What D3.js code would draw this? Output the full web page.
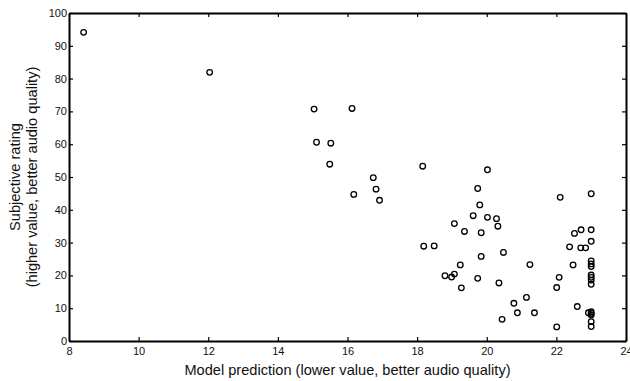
<!DOCTYPE html>
<html lang="en">
<head>
<meta charset="UTF-8">
<title>Model prediction vs subjective rating</title>
<script src="https://d3js.org/d3.v7.min.js"></script>
<style>
  body { margin: 0; background: #fff; }
  text { font-family: "Liberation Sans", Arial, sans-serif; fill: #111; }
</style>
</head>
<body>
<div id="chart"></div>
<script>
// model prediction (x) and subjective rating (y)
const prediction = [
  8.42, 12.04, 15.04, 15.11, 16.13, 15.52, 15.49, 16.74, 16.82, 16.18, 16.92,
  18.16, 19.74, 20.02, 22.11, 23.0,
  19.80, 19.61, 20.02, 20.28, 19.07, 20.32, 19.36, 19.84, 22.52, 22.71,
  18.19, 18.49, 22.38, 22.70, 22.84, 20.48, 19.84, 19.24, 21.24, 22.48,
  18.80, 18.99, 19.07, 19.74, 20.35, 22.08, 19.27, 22.01,
  21.14, 20.78, 22.60, 20.88, 21.37, 22.92, 20.44, 22.01,
  23.0, 23.0, 23.0, 23.0, 23.0, 23.0, 23.0, 23.0, 23.0, 23.0, 23.0, 23.0, 23.0, 23.0
];
const rating = [
  94.1, 81.9, 70.7, 60.6, 70.9, 60.3, 53.9, 49.8, 46.3, 44.7, 42.9,
  53.3, 46.5, 52.2, 43.8, 44.9,
  41.5, 38.2, 37.7, 37.3, 35.8, 35.0, 33.4, 33.0, 32.8, 33.9,
  28.9, 29.0, 28.7, 28.4, 28.4, 27.0, 25.8, 23.2, 23.3, 23.2,
  19.9, 19.5, 20.4, 19.1, 17.7, 19.4, 16.2, 16.3,
  13.3, 11.5, 10.5, 8.6, 8.6, 8.6, 6.6, 4.3,
  33.9, 30.4, 24.4, 23.5, 22.7, 20.1, 19.4, 18.6, 17.3, 8.9, 8.4, 7.9, 5.9, 4.4
];
const xTicks = [8, 10, 12, 14, 16, 18, 20, 22, 24];
const yTicks = [0, 10, 20, 30, 40, 50, 60, 70, 80, 90, 100];

const width = 630, height = 381;
const margin = { top: 13, right: 4, bottom: 40, left: 69 };
const innerW = width - margin.left - margin.right;
const innerH = height - margin.top - margin.bottom;

const svg = d3.select("#chart").append("svg")
  .attr("width", width)
  .attr("height", height);

const g = svg.append("g")
  .attr("transform", `translate(${margin.left},${margin.top})`);

const x = d3.scaleLinear().domain([8, 24]).range([0, innerW]);
const y = d3.scaleLinear().domain([0, 100]).range([innerH, 0]);

// axes with inward ticks on all four sides
const axisB = g.append("g")
  .attr("transform", `translate(0,${innerH})`)
  .call(d3.axisBottom(x).tickValues(xTicks).tickSizeInner(-4).tickSizeOuter(0).tickPadding(6));
const axisT = g.append("g")
  .call(d3.axisTop(x).tickValues(xTicks).tickSizeInner(-4).tickSizeOuter(0).tickFormat(""));
const axisL = g.append("g")
  .call(d3.axisLeft(y).tickValues(yTicks).tickSizeInner(-4).tickSizeOuter(0).tickPadding(2));
const axisR = g.append("g")
  .attr("transform", `translate(${innerW},0)`)
  .call(d3.axisRight(y).tickValues(yTicks).tickSizeInner(-4).tickSizeOuter(0).tickFormat(""));

[axisB, axisT, axisL, axisR].forEach(a => {
  a.select(".domain").attr("stroke", "#000").attr("stroke-width", 2);
  a.selectAll(".tick line").attr("stroke", "#000").attr("stroke-width", 1.2);
  a.selectAll("text").style("font-size", "11px").attr("fill", "#111");
});

// points
g.append("g").selectAll("circle")
  .data(prediction.map((p, i) => [p, rating[i]]))
  .enter().append("circle")
  .attr("cx", d => x(d[0]))
  .attr("cy", d => y(d[1]))
  .attr("r", 2.8)
  .attr("fill", "none")
  .attr("stroke", "#000")
  .attr("stroke-width", 1.3);

// axis labels
svg.append("text")
  .attr("x", margin.left + innerW / 2)
  .attr("y", 375)
  .attr("text-anchor", "middle")
  .style("font-size", "14.6px")
  .text("Model prediction (lower value, better audio quality)");

const yl = svg.append("text")
  .attr("transform", `translate(0,${margin.top + innerH / 2}) rotate(-90)`)
  .attr("text-anchor", "middle")
  .style("font-size", "14.6px");
yl.append("tspan").attr("x", 0).attr("y", 20).text("Subjective rating");
yl.append("tspan").attr("x", 0).attr("y", 37).text("(higher value, better audio quality)");
</script>
</body>
</html>
